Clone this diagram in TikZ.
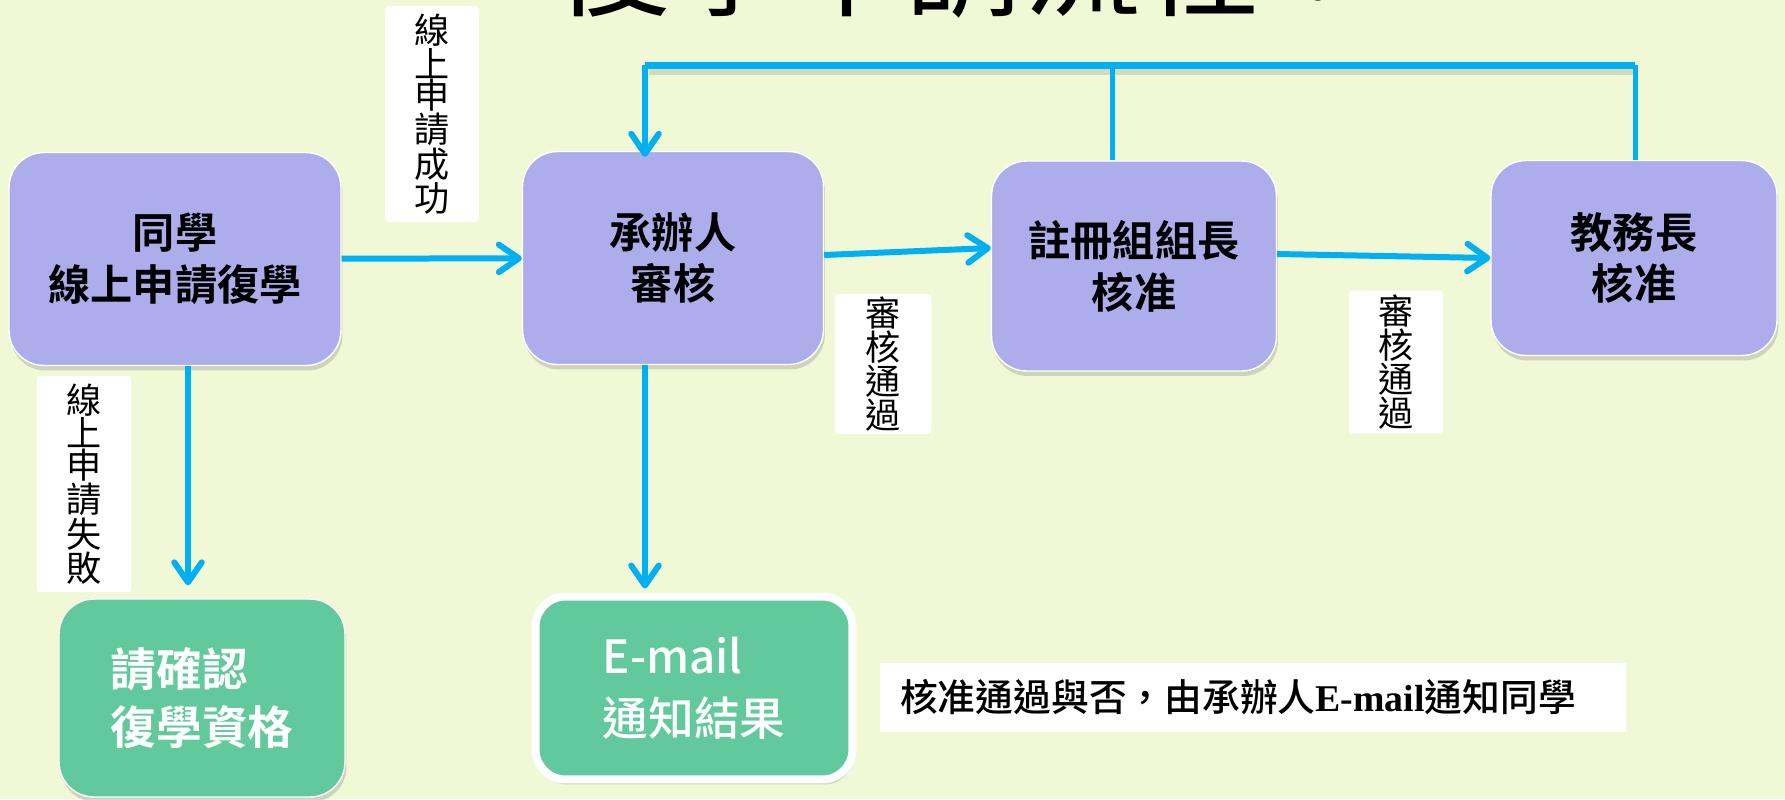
\documentclass[tikz,border=0pt]{standalone}
\usepackage{fontspec}
\setmainfont{Noto Sans CJK TC}[BoldFont={Noto Sans CJK TC Bold}]
\newfontfamily\cjkmedium{Noto Sans CJK TC Medium}
\newfontfamily\notelatin{Liberation Serif}
\usetikzlibrary{arrows.meta,calc,positioning,shadows}
\definecolor{bgcolor}{HTML}{F1F8D6}
\definecolor{boxpurple}{HTML}{ADADEB}
\definecolor{boxgreen}{HTML}{62C99D}
\definecolor{arrowblue}{HTML}{00B0F0}
\tikzset{
	every node/.style={
		font=\fontsize{24}{29.5}\selectfont
	},
	purple box/.style={
		shape=rectangle,
		rounded corners=0.7cm,
		fill=boxpurple,
		draw=white,
		line width=0.8pt,
		align=center,
		font=\bfseries\fontsize{24}{29.5}\selectfont,
		drop shadow={shadow xshift=0.03cm,shadow yshift=-0.1cm,opacity=0.3}
	},
	green box/.style={
		shape=rectangle,
		rounded corners=0.7cm,
		fill=boxgreen,
		draw=white,
		line width=0.8pt,
		align=left,
		text=white,
		font=\bfseries\fontsize{26}{33}\selectfont,
		drop shadow={shadow xshift=0.03cm,shadow yshift=-0.1cm,opacity=0.3}
	},
	side label/.style={
		shape=rectangle,
		rounded corners=2pt,
		fill=white,
		align=center,
		inner sep=0pt,
		font=\fontsize{20}{18}\selectfont
	},
	flow/.style={
		draw=arrowblue,
		line width=0.12cm,
		-{Straight Barb[length=0.4cm,width=0.55cm,round]}
	},
	flow line/.style={draw=arrowblue,line width=0.1cm},
	flow bar/.style={draw=arrowblue,line width=0.14cm}
}
\begin{document}
\begin{tikzpicture}[x=0.02cm,y=-0.02cm]
\useasboundingbox (0,0) rectangle (1785,799);
\fill[bgcolor] (0,0) rectangle (1785,799);

% title, cut by the top edge
\begin{scope}
\clip (0,0) rectangle (1785,799);
\node[anchor=base west,inner sep=0pt,font=\fontsize{67}{67}\selectfont] (title) at (553,7) {復學申請流程：};
\end{scope}

% steps
\node[purple box,minimum width=6.64cm,minimum height=4.26cm] (apply) at (175,259) {同學\\線上申請復學};
\node[purple box,minimum width=6.02cm,minimum height=4.26cm] (officer) at (673,258) {承辦人\\審核};
\node[purple box,minimum width=5.70cm,minimum height=4.20cm] (registrar) at (1134,266) {註冊組組長\\核准};
\node[purple box,minimum width=5.72cm,minimum height=3.90cm] (dean) at (1634,258) {教務長\\核准};

\node[green box,minimum width=5.72cm,minimum height=3.96cm] (check) at (202,698) {請確認\\復學資格};
\node[green box,line width=0.16cm,rounded corners=0.6cm,font=\cjkmedium\fontsize{26}{35}\selectfont,
	minimum width=6.34cm,minimum height=3.66cm] (mail) at (694,688) {E-mail\\通知結果};

\node[fill=white,minimum width=14.92cm,minimum height=1.38cm,font=\cjkmedium\fontsize{21.5}{24}\selectfont] (note) at (1253,697)
	{核准通過與否，由承辦人{\notelatin\bfseries E-mail}通知同學\hspace*{0.6cm}};

% labels
\node[side label,minimum width=1.88cm,minimum height=4.32cm] (ok) at (432,114) {線\\上\\申\\請\\成\\功};
\node[side label,minimum width=1.94cm,minimum height=2.80cm] (pass1) at (883,364) {審\\核\\通\\過};
\node[side label,minimum width=1.88cm,minimum height=2.86cm] (pass2) at (1396,362) {審\\核\\通\\過};
\node[side label,minimum width=1.90cm,minimum height=4.32cm] (fail) at (84,484) {線\\上\\申\\請\\失\\敗};

% connectors
\draw[flow] (apply) -- (officer);
\draw[flow] ($(officer.east)+(0,-3)$) -- ($(registrar.west)+(0,-18)$);
\draw[flow] ($(registrar.east)+(0,-12)$) -- (dean.west);
\draw[flow] ($(apply.south)+(13,0)$) -- ($(check.north)+(-14,-13)$);
\draw[flow] ($(officer.south)+(-28,0)$) -- ($(mail.north)+(-49,-4)$);

% return line on top
\coordinate (top left) at (645,65);
\coordinate (top right) at (1635,65);
\coordinate (reg up) at ($(registrar.north)+(-22,0)$);
\draw[line width=0.12cm,black,opacity=0.12] ($(top left)+(4,7)$) -- ($(top right)+(0,7)$);
\draw[flow line] (reg up) -- (reg up |- top left);
\draw[flow line] (top right |- dean.north) -- (top right);
\draw[flow bar] (top left) -- (top right);
\draw[flow] (top left) -- ($(top left |- officer.north)+(0,6)$);

\end{tikzpicture}
\end{document}
